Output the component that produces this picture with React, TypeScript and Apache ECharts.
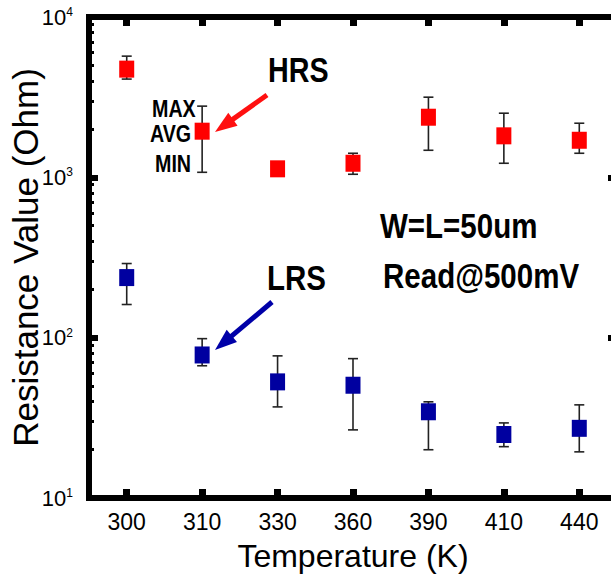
import React, { useEffect, useRef } from "react";
import * as echarts from "echarts";

const categories = ["300", "310", "330", "360", "390", "410", "440"];
const hrsAvg = [4730, 1940, 1130, 1224, 2371, 1815, 1703];
const hrsMax = [5700, 2780, 1170, 1413, 3162, 2512, 2175];
const hrsMin = [4100, 1075, 1100, 1045, 1475, 1224, 1413];
const lrsAvg = [237, 78, 53, 50.5, 34.5, 24.9, 27.2];
const lrsMax = [290, 98.6, 77, 74, 39.8, 29.4, 38.1];
const lrsMin = [161, 66.8, 37, 26.6, 20, 20.9, 19.4];
const minorTickValues = [
  20, 30, 40, 50, 60, 70, 80, 90,
  200, 300, 400, 500, 600, 700, 800, 900,
  2000, 3000, 4000, 5000, 6000, 7000, 8000, 9000,
];

const FONT = "'Liberation Sans', Arial, sans-serif";

const axisLineStyle = { show: true, lineStyle: { color: "#000", width: 6, cap: "square" as const } };

function errorBarRender(params: any, api: any) {
  const i = api.value(0);
  const hi = api.coord([i, api.value(1)]);
  const lo = api.coord([i, api.value(2)]);
  const cw = 5;
  const style = { stroke: "#222", lineWidth: 1.6 };
  return {
    type: "group",
    children: [
      { type: "line", shape: { x1: hi[0], y1: hi[1], x2: lo[0], y2: lo[1] }, style },
      { type: "line", shape: { x1: hi[0] - cw, y1: hi[1], x2: hi[0] + cw, y2: hi[1] }, style },
      { type: "line", shape: { x1: lo[0] - cw, y1: lo[1], x2: lo[0] + cw, y2: lo[1] }, style },
    ],
  };
}

function arrow(tail: number[], tip: number[], color: string) {
  const dx = tip[0] - tail[0];
  const dy = tip[1] - tail[1];
  const len = Math.sqrt(dx * dx + dy * dy);
  const ux = dx / len, uy = dy / len;
  const nx = -uy, ny = ux;
  const hl = 22, hw = 8;
  const bx = tip[0] - hl * ux, by = tip[1] - hl * uy;
  return [
    { type: "line", shape: { x1: tail[0], y1: tail[1], x2: bx + 2 * ux, y2: by + 2 * uy }, style: { stroke: color, lineWidth: 5 } },
    {
      type: "polygon",
      shape: { points: [[tip[0], tip[1]], [bx + hw * nx, by + hw * ny], [bx - hw * nx, by - hw * ny]] },
      style: { fill: color },
    },
  ];
}

function txt(text: string, x: number, y: number, size: number) {
  return {
    type: "text",
    x,
    y,
    scaleX: 0.82,
    style: {
      text,
      fontSize: size,
      fontWeight: "bold",
      fontFamily: FONT,
      fill: "#000",
      align: "left",
      verticalAlign: "middle",
    },
  };
}

export default function App() {
  const ref = useRef<HTMLDivElement>(null);
  useEffect(() => {
    if (!ref.current) return;
    const chart = echarts.init(ref.current, null, { renderer: "svg" });
    const option: any = {
      animation: false,
      backgroundColor: "#fff",
      grid: { left: 89, right: -6, top: 17, bottom: 82, containLabel: false, outerBoundsMode: "none" },
      xAxis: [
        {
          type: "category",
          data: categories,
          position: "bottom",
          boundaryGap: true,
          axisLine: axisLineStyle,
          axisTick: { show: true, inside: true, alignWithLabel: true, length: 9, lineStyle: { color: "#000", width: 7 } },
          axisLabel: { interval: 0, fontSize: 23, fontFamily: FONT, color: "#000", margin: 12 },
          splitLine: { show: false },
          name: "Temperature (K)",
          nameLocation: "middle",
          nameGap: 42,
          nameMoveOverlap: false,
          nameTextStyle: { fontSize: 32, fontFamily: FONT, color: "#000" },
        },
        {
          type: "category",
          data: categories,
          position: "top",
          boundaryGap: true,
          axisLine: axisLineStyle,
          axisTick: { show: true, inside: true, alignWithLabel: true, length: 9, lineStyle: { color: "#000", width: 7 } },
          axisLabel: { show: false },
          splitLine: { show: false },
        },
      ],
      yAxis: [
        {
          type: "log",
          logBase: 10,
          min: 10,
          max: 10000,
          position: "left",
          axisLine: axisLineStyle,
          axisTick: { show: true, inside: true, length: 9, lineStyle: { color: "#000", width: 6 } },
          axisLabel: {
            margin: 16,
            formatter: (v: number) => `{b|10}{s|${Math.round(Math.log10(v))}}`,
            rich: {
              b: { fontSize: 22, fontFamily: FONT, color: "#000" },
              s: { fontSize: 12, fontFamily: FONT, color: "#000", verticalAlign: "top" },
            },
          },
          splitLine: { show: false },
          name: "Resistance Value (Ohm)",
          nameLocation: "middle",
          nameGap: 46,
          nameMoveOverlap: false,
          nameTextStyle: { fontSize: 35, fontFamily: FONT, color: "#000" },
        },
        {
          type: "log",
          logBase: 10,
          min: 10,
          max: 10000,
          position: "left",
          axisLine: { show: false },
          axisTick: { show: true, inside: true, length: 5, customValues: minorTickValues, lineStyle: { color: "#000", width: 3 } },
          axisLabel: { show: false },
          splitLine: { show: false },
        },
        {
          type: "log",
          logBase: 10,
          min: 10,
          max: 10000,
          position: "right",
          axisLine: axisLineStyle,
          axisTick: { show: true, inside: true, length: 9, lineStyle: { color: "#000", width: 6 } },
          axisLabel: { show: false },
          splitLine: { show: false },
        },
      ],
      series: [
        {
          type: "custom",
          name: "HRS range",
          renderItem: errorBarRender,
          encode: { x: 0, y: [1, 2] },
          data: categories.map((_, i) => [i, hrsMax[i], hrsMin[i]]),
          z: 2,
        },
        {
          type: "custom",
          name: "LRS range",
          renderItem: errorBarRender,
          encode: { x: 0, y: [1, 2] },
          data: categories.map((_, i) => [i, lrsMax[i], lrsMin[i]]),
          z: 2,
        },
        {
          type: "scatter",
          name: "HRS",
          symbol: "rect",
          symbolSize: [15, 17],
          itemStyle: { color: "#ff0000", opacity: 1 },
          data: hrsAvg,
          z: 3,
        },
        {
          type: "scatter",
          name: "LRS",
          symbol: "rect",
          symbolSize: [15, 17],
          itemStyle: { color: "#0000a0", opacity: 1 },
          data: lrsAvg,
          z: 3,
        },
      ],
      graphic: [
        ...arrow([267, 95], [215, 132], "#ff1010"),
        ...arrow([272, 302], [215, 350], "#0000a8"),
        txt("HRS", 268, 70, 35),
        txt("LRS", 267, 277, 36),
        txt("W=L=50um", 380, 225, 36),
        txt("Read@500mV", 383, 275, 36),
        txt("MAX", 152, 109, 24),
        txt("AVG", 150, 134, 24),
        txt("MIN", 155, 164, 24),
      ],
    };
    chart.setOption(option);
    return () => chart.dispose();
  }, []);
  return <div ref={ref} style={{ width: 611, height: 580, position: "absolute", left: 0, top: 0 }} />;
}
